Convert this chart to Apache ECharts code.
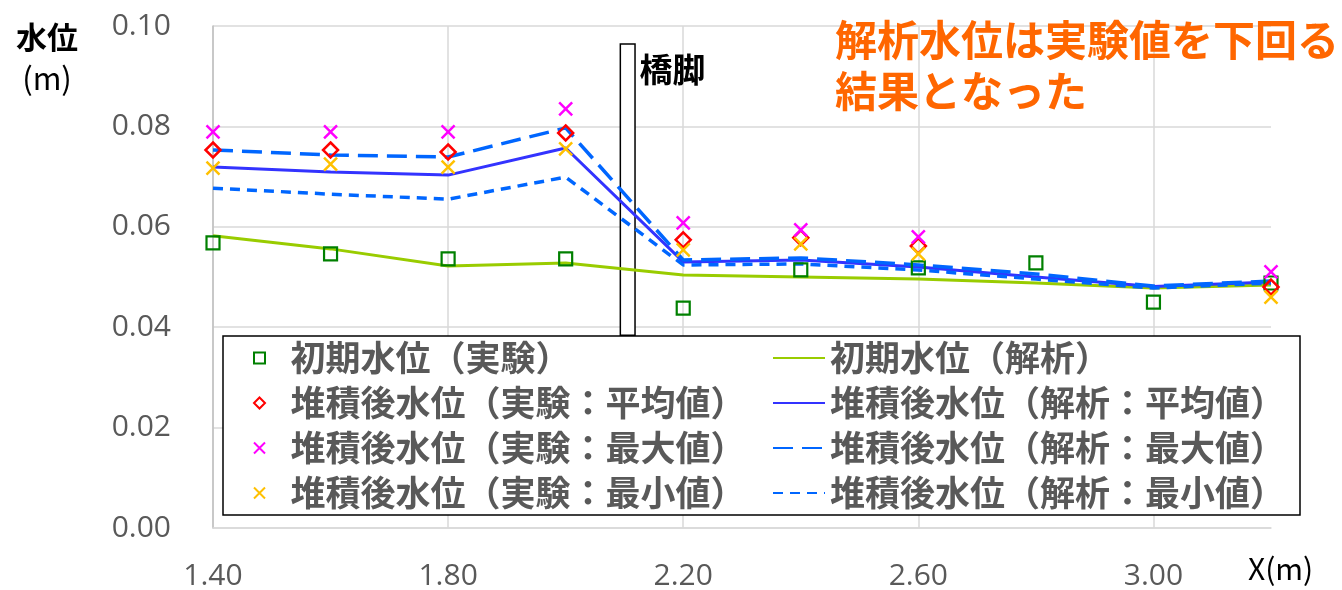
<!DOCTYPE html>
<html>
<head>
<meta charset="utf-8">
<script src="https://cdn.jsdelivr.net/npm/echarts@6/dist/echarts.min.js"></script>
<style>
  html, body { margin: 0; padding: 0; background: #ffffff; overflow: hidden; }
  #chart { width: 1342px; height: 590px; }
</style>
</head>
<body>
<div id="chart"></div>
<script>
// Measurement stations along the channel (m)
const xPositions = [1.4, 1.6, 1.8, 2.0, 2.2, 2.4, 2.6, 2.8, 3.0, 3.2];

// Water levels (m)
const initialExp    = [0.0568, 0.0546, 0.0536, 0.0536, 0.0438, 0.0514, 0.0518, 0.0528, 0.0450, 0.0488];
const initialCalc   = [0.0582, 0.0556, 0.0522, 0.0528, 0.0504, 0.0500, 0.0496, 0.0488, 0.0478, 0.0484];
const afterExpMean  = [0.0753, 0.0753, 0.0749, 0.0787, 0.0574, 0.0578, 0.0562, null, null, 0.0480];
const afterExpMax   = [0.0789, 0.0789, 0.0789, 0.0835, 0.0608, 0.0594, 0.0580, null, null, 0.0510];
const afterExpMin   = [0.0717, 0.0725, 0.0719, 0.0755, 0.0554, 0.0566, 0.0546, null, null, 0.0460];
const afterCalcMean = [0.0719, 0.0709, 0.0703, 0.0757, 0.0530, 0.0534, 0.0520, 0.0500, 0.0481, 0.0490];
const afterCalcMax  = [0.0753, 0.0743, 0.0739, 0.0797, 0.0534, 0.0538, 0.0524, 0.0506, 0.0482, 0.0492];
const afterCalcMin  = [0.0677, 0.0665, 0.0655, 0.0699, 0.0524, 0.0526, 0.0514, 0.0496, 0.0478, 0.0488];

// Bridge pier extent (x in m, y in m)
const pierX = [2.093, 2.118];
const pierY = [0.0384, 0.0964];

// Axis ticks
const xTicks = { min: 1.4, max: 3.2, interval: 0.4 };
const yTicks = { min: 0, max: 0.1, interval: 0.02 };

// Series names
const names = {
  initExp: '初期水位（実験）',
  meanExp: '堆積後水位（実験：平均値）',
  maxExp: '堆積後水位（実験：最大値）',
  minExp: '堆積後水位（実験：最小値）',
  initCalc: '初期水位（解析）',
  meanCalc: '堆積後水位（解析：平均値）',
  maxCalc: '堆積後水位（解析：最大値）',
  minCalc: '堆積後水位（解析：最小値）'
};

const pierLabel = '橋脚';
const note = '解析水位は実験値を下回る\n結果となった';

function pairs(values) {
  return xPositions
    .map((x, i) => (values[i] == null ? null : [x, values[i]]))
    .filter(Boolean);
}

// Outline-only marker shapes (paths keep their aspect ratio in the legend)
const SQUARE = 'path://M0,0L10,0L10,10L0,10Z';
const DIAMOND = 'path://M5,0L10,5L5,10L0,5Z';
const CROSS = 'path://M0,0L10,10M0,10L10,0';
const CJK = '"Noto Sans CJK JP", sans-serif';
const NUM = '"Open Sans", sans-serif';
const CLEAR = 'rgba(0,0,0,0)';

function lineSeries(name, values, color, width, type) {
  return {
    name: name,
    type: 'line',
    data: pairs(values),
    symbol: 'none',
    showSymbol: false,
    lineStyle: { color: color, width: width, type: type },
    itemStyle: { color: CLEAR, borderWidth: 0 },
    z: 2
  };
}

function scatterSeries(name, values, symbol, size, color, borderWidth) {
  return {
    name: name,
    type: 'scatter',
    data: pairs(values),
    symbol: symbol,
    symbolSize: size,
    symbolKeepAspect: true,
    itemStyle: { color: 'rgba(255,255,255,0)', borderColor: color, borderWidth: borderWidth, opacity: 1 },
    z: 3
  };
}

const green = lineSeries(names.initCalc, initialCalc, '#99cc00', 3, 'solid');
green.markArea = {
  silent: true,
  itemStyle: { color: '#ffffff', borderColor: '#000000', borderWidth: 1.5 },
  label: {
    show: true,
    position: [20, 10],
    formatter: '{b}',
    color: '#000000',
    fontFamily: CJK,
    fontWeight: 'bold',
    fontSize: 33
  },
  data: [[
    { name: pierLabel, coord: [pierX[0], pierY[0]] },
    { coord: [pierX[1], pierY[1]] }
  ]]
};

const legendText = {
  color: '#595959',
  fontFamily: CJK,
  fontWeight: 'bold',
  fontSize: 35,
  lineHeight: 40
};

// Line entries in the legend show only the stroke
const lineLegendItem = n => ({ name: n, itemStyle: { color: CLEAR, borderColor: CLEAR, borderWidth: 0 } });

const option = {
  animation: false,
  backgroundColor: '#ffffff',
  grid: { left: 213, right: 71, top: 26, bottom: 62, containLabel: false, outerBoundsMode: 'none' },
  xAxis: {
    type: 'value',
    min: xTicks.min,
    max: xTicks.max,
    interval: xTicks.interval,
    axisLine: { show: true, lineStyle: { color: '#d9d9d9', width: 1.5 } },
    axisTick: { show: false },
    axisLabel: {
      margin: 33,
      color: '#595959',
      fontFamily: NUM,
      fontSize: 30,
      showMaxLabel: false,
      formatter: v => v.toFixed(2)
    },
    splitLine: { show: true, showMaxLine: false, lineStyle: { color: '#d9d9d9', width: 1.5 } }
  },
  yAxis: {
    type: 'value',
    min: yTicks.min,
    max: yTicks.max,
    interval: yTicks.interval,
    axisLine: { show: true, lineStyle: { color: '#bfbfbf', width: 1.5 } },
    axisTick: { show: false },
    axisLabel: {
      margin: 42,
      color: '#595959',
      fontFamily: NUM,
      fontSize: 30,
      formatter: v => v.toFixed(2)
    },
    splitLine: { show: true, lineStyle: { color: '#d9d9d9', width: 1.5 } }
  },
  legend: [
    {
      orient: 'vertical',
      left: 253,
      top: 338,
      padding: 0,
      itemGap: 5,
      itemWidth: 52,
      itemHeight: 11,
      textStyle: legendText,
      data: [names.initExp, names.meanExp, names.maxExp, names.minExp],
      z: 5
    },
    {
      orient: 'vertical',
      left: 772,
      top: 338,
      padding: 0,
      itemGap: 5,
      itemWidth: 52,
      itemHeight: 11,
      textStyle: legendText,
      data: [names.initCalc, names.meanCalc, names.maxCalc, names.minCalc].map(lineLegendItem),
      z: 5
    }
  ],
  graphic: [
    {
      type: 'rect',
      z: 4,
      silent: true,
      shape: { x: 223, y: 336, width: 1077, height: 179 },
      style: { fill: '#ffffff', stroke: '#000000', lineWidth: 1.5 }
    },
    {
      type: 'text',
      z: 5,
      x: 47,
      y: 37,
      style: {
        text: '水位',
        align: 'center',
        verticalAlign: 'middle',
        fill: '#000000',
        fontFamily: CJK,
        fontWeight: 'bold',
        fontSize: 31
      }
    },
    {
      type: 'text',
      z: 5,
      x: 47,
      y: 78,
      style: {
        text: '(m)',
        align: 'center',
        verticalAlign: 'middle',
        fill: '#000000',
        fontFamily: CJK,
        fontSize: 31
      }
    },
    {
      type: 'text',
      z: 5,
      x: 1248,
      y: 569,
      style: {
        text: 'X(m)',
        align: 'left',
        verticalAlign: 'middle',
        fill: '#000000',
        fontFamily: CJK,
        fontSize: 30
      }
    },
    {
      type: 'text',
      z: 5,
      x: 835,
      y: 15,
      style: {
        text: note,
        align: 'left',
        verticalAlign: 'top',
        fill: '#ff6600',
        fontFamily: CJK,
        fontWeight: 'bold',
        fontSize: 42,
        lineHeight: 51
      }
    }
  ],
  series: [
    green,
    lineSeries(names.meanCalc, afterCalcMean, '#3333ff', 3, 'solid'),
    lineSeries(names.maxCalc, afterCalcMax, '#0066ff', 3.5, [20, 9]),
    lineSeries(names.minCalc, afterCalcMin, '#0066ff', 3.5, [10, 7]),
    scatterSeries(names.initExp, initialExp, SQUARE, 13, '#008000', 2.2),
    scatterSeries(names.meanExp, afterExpMean, DIAMOND, 15, '#ff0000', 2.5),
    scatterSeries(names.maxExp, afterExpMax, CROSS, 13, '#ff00ff', 2.5),
    scatterSeries(names.minExp, afterExpMin, CROSS, 13, '#ffc000', 2.5)
  ]
};

const chart = echarts.init(document.getElementById('chart'), null, { renderer: 'canvas' });
chart.setOption(option);
</script>
</body>
</html>
